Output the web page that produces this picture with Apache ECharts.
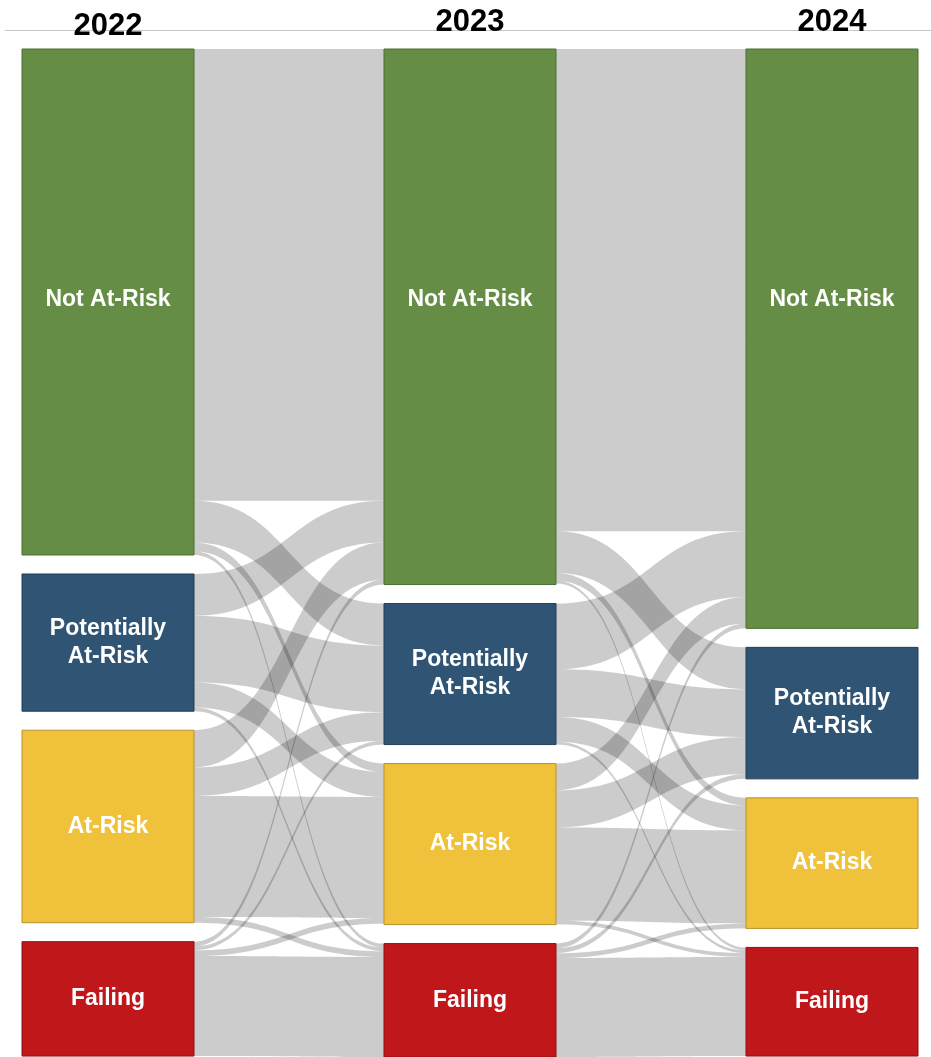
<!DOCTYPE html>
<html>
<head>
<meta charset="utf-8">
<script src="https://cdn.jsdelivr.net/npm/echarts@6/dist/echarts.min.js"></script>
<style>
  html, body { margin: 0; padding: 0; background: #ffffff; }
  #chart { width: 931px; height: 1057px; }
</style>
</head>
<body>
<div id="chart"></div>
<script>
// ---- data ----
const years = ['2022', '2023', '2024'];
const categories = ['Not At-Risk', 'Potentially At-Risk', 'At-Risk', 'Failing'];
const categoryLabels = ['Not At-Risk', 'Potentially\nAt-Risk', 'At-Risk', 'Failing'];
// share of students (%) moving from row category to column category
const flows2022to2023 = [
  [47.4, 4.4, 0.9, 0.4],
  [4.4, 7.0, 2.6, 0.4],
  [3.9, 3.0, 12.7, 0.6],
  [0.5, 0.4, 0.6, 10.5]
];
const flows2023to2024 = [
  [50.6, 4.4, 0.8, 0.3],
  [6.9, 5.0, 2.6, 0.3],
  [2.8, 3.9, 9.8, 0.4],
  [0.5, 0.5, 0.5, 10.4]
];

// ---- styles ----
const nodeColors = ['#658D46', '#2F5474', '#F0C23C', '#C0171B'];
const nodeBorders = ['#4C6E33', '#223F58', '#B8912A', '#8E1013'];
const fontFamily = "'Liberation Sans', Arial, Helvetica, sans-serif";
const layoutCfg = { left: 22, right: 13, top: 49, bottom: 0, nodeWidth: 172, nodeGap: 19 };
const yearTops = [11, 7, 7];
const W = 931;

const nodes = [];
years.forEach((y) => {
  categories.forEach((c, ci) => {
    const item = {
      name: c + ' ' + y,
      itemStyle: { color: nodeColors[ci], borderColor: nodeBorders[ci], borderWidth: 1 },
      label: { formatter: categoryLabels[ci] }
    };
    if (ci === 0) {
      item.label.position = ['50%', 251];
      item.label.align = 'center';
      item.label.verticalAlign = 'middle';
    }
    nodes.push(item);
  });
});

const links = [];
[flows2022to2023, flows2023to2024].forEach((m, k) => {
  m.forEach((row, i) => {
    row.forEach((v, j) => {
      links.push({ source: categories[i] + ' ' + years[k], target: categories[j] + ' ' + years[k + 1], value: v });
    });
  });
});

const innerW = W - layoutCfg.left - layoutCfg.right;
const colCenters = years.map((y, i) =>
  layoutCfg.left + layoutCfg.nodeWidth / 2 + i * (innerW - layoutCfg.nodeWidth) / (years.length - 1));

const graphics = [
  { type: 'line', z: 0, shape: { x1: 5, y1: 30.5, x2: 931, y2: 30.5 }, style: { stroke: '#c6c6c6', lineWidth: 1 } }
].concat(years.map((y, i) => ({
  type: 'text', z: 10,
  x: colCenters[i], y: yearTops[i],
  style: {
    text: y, fill: '#000', fontSize: 31, fontWeight: 'bold', fontFamily: fontFamily,
    textAlign: 'center', textVerticalAlign: 'top'
  }
})));

const chart = echarts.init(document.getElementById('chart'), null, { renderer: 'canvas' });
chart.setOption({
  backgroundColor: '#ffffff',
  animation: false,
  graphic: graphics,
  series: [{
    type: 'sankey',
    left: layoutCfg.left, right: layoutCfg.right, top: layoutCfg.top, bottom: layoutCfg.bottom,
    nodeWidth: layoutCfg.nodeWidth,
    nodeGap: layoutCfg.nodeGap,
    layoutIterations: 0,
    draggable: false,
    emphasis: { disabled: true },
    label: {
      show: true,
      position: 'inside',
      color: '#ffffff',
      fontSize: 23,
      fontWeight: 'bold',
      fontFamily: fontFamily,
      lineHeight: 28,
      align: 'center'
    },
    lineStyle: { color: '#000000', opacity: 0.2, curveness: 0.5 },
    data: nodes,
    links: links
  }]
});
</script>
</body>
</html>
